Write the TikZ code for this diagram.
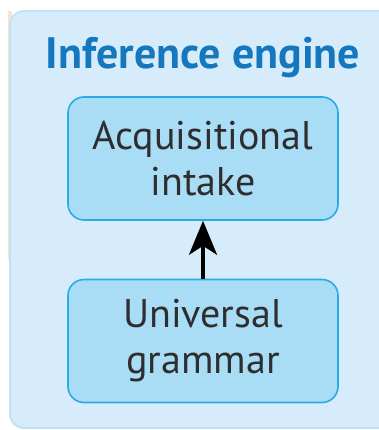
\documentclass[tikz,border=0pt]{standalone}
\usepackage{fontspec}
\setmainfont{PT Sans}
\usetikzlibrary{arrows.meta}
\definecolor{panelfill}{HTML}{D6ECFA}
\definecolor{panelline}{HTML}{C2E2F6}
\definecolor{boxfill}{HTML}{A9DDF6}
\definecolor{boxline}{HTML}{2BAAE3}
\definecolor{titleblue}{HTML}{1577BD}
\definecolor{textgray}{HTML}{2E2E2E}
\definecolor{peach}{HTML}{FAE3D0}
\begin{document}
\begin{tikzpicture}[x=1pt,y=-1pt,
  stagebox/.style={draw=boxline, line width=1.6pt, fill=boxfill, rounded corners=16pt,
    minimum width=270pt, minimum height=123pt, align=center, text=textgray,
    font=\fontsize{40}{46}\selectfont, inner sep=0pt},
  flow/.style={-{Stealth[length=34pt,width=28pt,inset=9pt]}, line width=4pt, black}]
\useasboundingbox (0,0) rectangle (378,430);
\fill[white] (0,0) rectangle (378,430);
\fill[peach] (8,11) rectangle (12,260);
\draw[panelline, line width=2pt, fill=panelfill, rounded corners=14pt] (10,11) rectangle (395,428);
\node[font=\bfseries\fontsize{44}{48}\selectfont, text=titleblue] (title) at (203,58) {Inference engine};
\node[stagebox] (acq) at (203,158.5) {Acquisitional\\intake};
\node[stagebox] (ug) at (203,341) {Universal\\grammar};
\draw[flow] (ug.north) -- (acq.south);
\end{tikzpicture}
\end{document}
